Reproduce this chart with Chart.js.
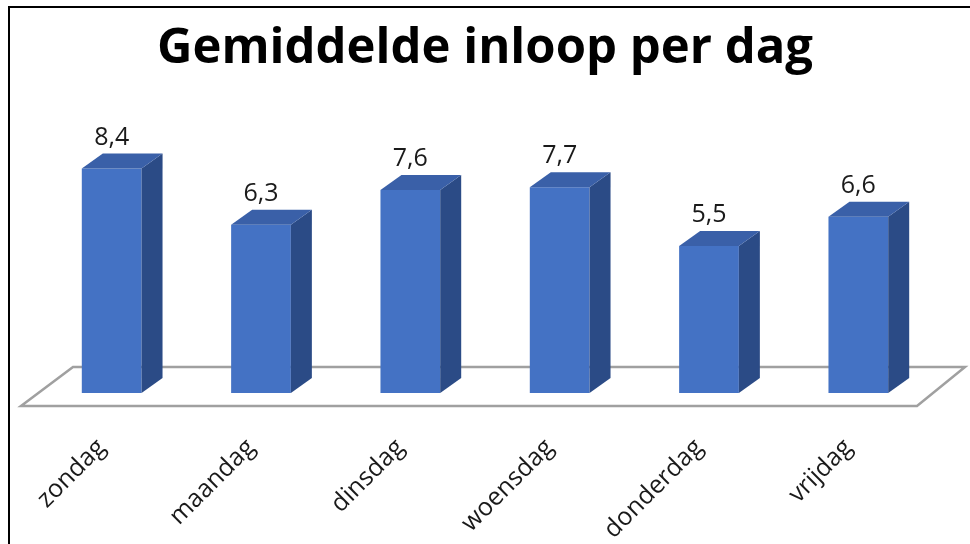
<!DOCTYPE html>
<html>
<head>
<meta charset="utf-8">
<script src="https://cdn.jsdelivr.net/npm/chart.js@4/dist/chart.umd.min.js"></script>
<style>
html,body{margin:0;padding:0;background:#fff;}
canvas{display:block;}
</style>
</head>
<body>
<canvas id="c" width="970" height="544"></canvas>
<script>
const categories = ['zondag', 'maandag', 'dinsdag', 'woensdag', 'donderdag', 'vrijdag'];
const values = [8.4, 6.3, 7.6, 7.7, 5.5, 6.6];
const titleText = 'Gemiddelde inloop per dag';

const DX = 21, DY = -15;

const framePlugin = {
  id: 'frame',
  beforeDraw(chart) {
    const ctx = chart.ctx;
    ctx.save();
    ctx.fillStyle = '#fff';
    ctx.fillRect(0, 0, chart.width, chart.height);
    ctx.strokeStyle = '#000';
    ctx.lineWidth = 2;
    ctx.beginPath();
    ctx.moveTo(9, 544);
    ctx.lineTo(9, 7);
    ctx.lineTo(970, 7);
    ctx.stroke();
    ctx.restore();
  },
  beforeDatasetsDraw(chart) {
    const ctx = chart.ctx;
    const a = chart.chartArea;
    const y0 = chart.scales.y.getPixelForValue(0);
    const fy = y0 + 13, by = y0 - 26;
    const fl = a.left - 16, fr = a.right - 16;
    ctx.save();
    ctx.strokeStyle = '#a0a0a0';
    ctx.lineWidth = 2.5;
    ctx.lineJoin = 'miter';
    ctx.beginPath();
    ctx.moveTo(fl, fy);
    ctx.lineTo(fr, fy);
    ctx.lineTo(fr + 48, by);
    ctx.lineTo(fl + 52, by);
    ctx.closePath();
    ctx.stroke();
    ctx.restore();
  },
  afterDatasetsDraw(chart) {
    const ctx = chart.ctx;
    const meta = chart.getDatasetMeta(0);
    ctx.save();
    meta.data.forEach((el, i) => {
      const p = el.getProps(['x', 'y', 'base', 'width'], true);
      const l = p.x - p.width / 2, r = p.x + p.width / 2, t = p.y, b = p.base;
      ctx.fillStyle = '#2B4B86';
      ctx.beginPath();
      ctx.moveTo(r, t); ctx.lineTo(r + DX, t + DY); ctx.lineTo(r + DX, b + DY); ctx.lineTo(r, b);
      ctx.closePath(); ctx.fill();
      ctx.fillStyle = '#3A60A8';
      ctx.beginPath();
      ctx.moveTo(l, t); ctx.lineTo(l + DX, t + DY); ctx.lineTo(r + DX, t + DY); ctx.lineTo(r, t);
      ctx.closePath(); ctx.fill();
      ctx.fillStyle = '#1a1a1a';
      ctx.font = '25px "Open Sans"';
      ctx.textAlign = 'center';
      ctx.textBaseline = 'alphabetic';
      ctx.fillText(String(values[i]).replace('.', ','), p.x, t - 24);
    });
    ctx.restore();
  }
};

new Chart(document.getElementById('c'), {
  type: 'bar',
  data: {
    labels: categories,
    datasets: [{
      data: values,
      backgroundColor: '#4472C4',
      borderWidth: 0,
      barPercentage: 0.4,
      categoryPercentage: 1.0
    }]
  },
  options: {
    responsive: false,
    animation: false,
    devicePixelRatio: 1,
    layout: { padding: { left: 37, right: 37, top: 0, bottom: 0 } },
    plugins: {
      legend: { display: false },
      tooltip: { enabled: false },
      title: {
        display: true,
        text: titleText,
        color: '#000',
        font: { family: '"Open Sans"', size: 49, weight: 'bold', lineHeight: 1.2 },
        padding: { top: 20, bottom: 47 }
      }
    },
    scales: {
      y: { display: false, min: 0, max: 10 },
      x: {
        grid: { display: false },
        border: { display: false },
        ticks: {
          autoSkip: false,
          maxRotation: 45,
          minRotation: 45,
          padding: 32,
          labelOffset: -10,
          color: '#1a1a1a',
          font: { family: '"Open Sans"', size: 25 }
        },
        afterFit(scale) { scale.height = 151; }
      }
    }
  },
  plugins: [framePlugin]
});
</script>
</body>
</html>
